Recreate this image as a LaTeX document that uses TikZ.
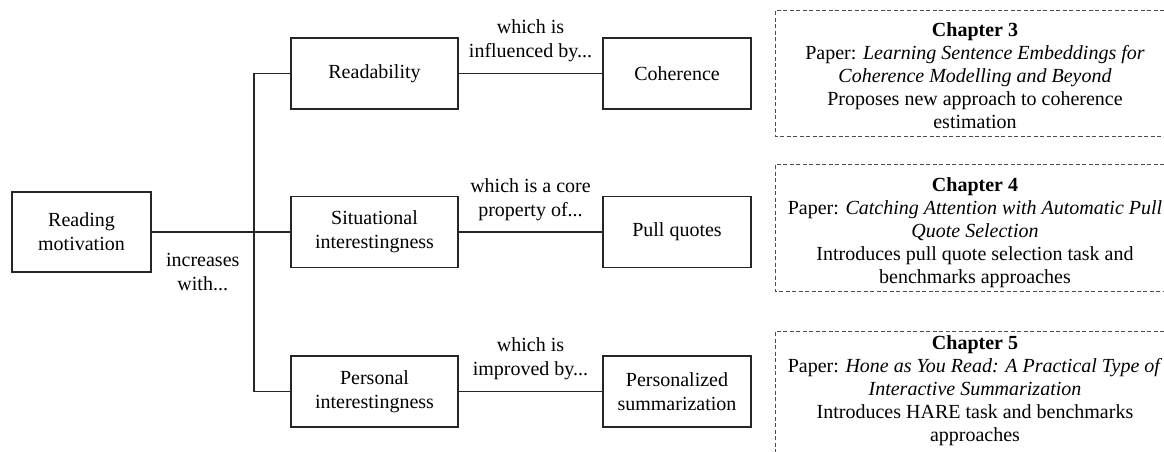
\documentclass[tikz,border=0pt]{standalone}
\usepackage{fontspec}
\setmainfont{Liberation Serif}
\begin{document}
\begin{tikzpicture}[x=1pt,y=-1pt,
  txt/.style={font=\fontsize{20}{24}\selectfont, align=center, inner sep=0pt},
  box/.style={txt, draw=black!85, line width=1.1pt, minimum height=71pt},
  lbl/.style={txt},
  chaptext/.style={txt, font=\fontsize{20}{23}\selectfont},
  frame/.style={draw=black!70, line width=0.9pt, dash pattern=on 4pt off 2.5pt},
  conn/.style={draw=black!85, line width=1.1pt}]
  \useasboundingbox (0,0) rectangle (1164,451);
  \fill[white] (0,0) rectangle (1164,451);

  % main boxes
  \node[box, minimum width=139pt, minimum height=80pt] (rm) at (81.5,232) {Reading\\motivation};
  \node[box, minimum width=167pt] (read) at (374.5,73.5) {Readability};
  \node[box, minimum width=167pt] (sit) at (374.5,232) {Situational\\interestingness};
  \node[box, minimum width=167pt] (pers) at (374.5,391.5) {Personal\\interestingness};
  \node[box, minimum width=148pt] (coh) at (677,73.5) {Coherence};
  \node[box, minimum width=148pt] (pq) at (677,232) {Pull quotes};
  \node[box, minimum width=148pt] (ps) at (677,391.5) {Personalized\\summarization};

  % branching trunk
  \coordinate (trunk) at (254,232);
  \draw[conn] (rm.east) -- node[lbl, below=21pt] (l0) {increases\\with...} (trunk) -- (sit.west);
  \draw[conn] (read.west) -| (trunk) |- (pers.west);

  % relations
  \draw[conn] (read.east) -- node[lbl, above=11pt] (l1) {which is\\influenced by...} (coh.west);
  \draw[conn] (sit.east) -- node[lbl, above=11pt] (l2) {which is a core\\property of...} (pq.west);
  \draw[conn] (pers.east) -- node[lbl, above=11pt] (l3) {which is\\improved by...} (ps.west);

  % chapter notes, framed on three sides (the right side runs off the page)
  \begin{scope}
    \clip (0,0) rectangle (1164,451);
    \draw[frame] (1190,10) -- (775,10) -- (775,136) -- (1190,136);
    \draw[frame] (1190,164) -- (775,164) -- (775,291) -- (1190,291);
    \draw[frame] (1190,331) -- (775,331) -- (775,470);
  \end{scope}
  \node[chaptext] (c3) at (975,75.5) {\textbf{Chapter 3}\\Paper: \textit{Learning Sentence Embeddings for}\\\textit{Coherence Modelling and Beyond}\\Proposes new approach to coherence\\estimation};
  \node[chaptext] (c4) at (975,232.5) {\textbf{Chapter 4}\\Paper: \textit{Catching Attention with Automatic Pull}\\\textit{Quote Selection}\\Introduces pull quote selection task and\\benchmarks approaches};
  \node[chaptext] (c5) at (975,391) {\textbf{Chapter 5}\\Paper: \textit{Hone as You Read: A Practical Type of}\\\textit{Interactive Summarization}\\Introduces HARE task and benchmarks\\approaches};
\end{tikzpicture}
\end{document}
